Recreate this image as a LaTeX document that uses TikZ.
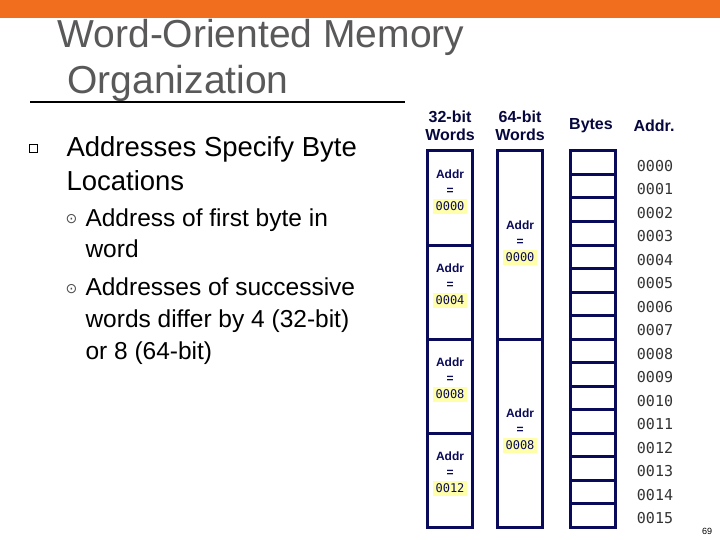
\documentclass[tikz,border=0pt]{standalone}
\usepackage{fontspec}
\setmainfont{Liberation Sans}
\setmonofont{DejaVu Sans Mono}
\newfontfamily\symfont{DejaVu Sans}
\usetikzlibrary{calc}
\definecolor{navy}{RGB}{10,10,90}
\definecolor{hilite}{RGB}{255,255,170}
\definecolor{barorange}{RGB}{240,110,30}
\begin{document}
\begin{tikzpicture}[x=1pt,y=-1pt,
   memcell/.style={draw=navy, line width=3pt, minimum width=45pt, inner sep=0pt},
   addrlbl/.style={align=center, text=navy, font=\bfseries\fontsize{12}{16}\selectfont},
   bytenum/.style={font=\ttfamily\fontsize{15}{15}\selectfont, text=black!80},
   colhead/.style={align=center, text=navy!70!black, font=\bfseries\fontsize{16}{18}\selectfont},
   subline/.style={anchor=base west, font=\fontsize{24.5}{24}\selectfont}]
\useasboundingbox (0,0) rectangle (720,540);
\fill[barorange] (0,0) rectangle (720,18);

% title and bullets
\node[anchor=base west, text=black!65, font=\fontsize{39}{39}\selectfont] (title1) at (54,48) {Word-Oriented Memory};
\node[anchor=base west, text=black!65, font=\fontsize{39}{39}\selectfont] (title2) at (64,94) {Organization};
\draw[line width=1.5pt] (30,102) -- (405,102);
\node[draw, minimum size=8pt, inner sep=0pt] (box) at (33,148) {};
\node[anchor=base west, font=\fontsize{27.5}{28}\selectfont] (main1) at (63,157) {Addresses Specify Byte};
\node[anchor=base west, font=\fontsize{27.5}{28}\selectfont] (main2) at (63,191) {Locations};
\node[anchor=base west, text=black!70, font=\symfont\fontsize{14}{14}\selectfont] (dot1) at (62,224) {⊙};
\node[anchor=base west, text=black!70, font=\symfont\fontsize{14}{14}\selectfont] (dot2) at (62,293) {⊙};
\node[subline] (s1) at (82,226) {Address of first byte in};
\node[subline] (s2) at (82,258) {word};
\node[subline] (s3) at (82,295) {Addresses of successive};
\node[subline] (s4) at (82,327) {words differ by 4 (32-bit)};
\node[subline] (s5) at (82,359) {or 8 (64-bit)};

% column heads
\node[colhead] (h32) at (450,126) {32-bit\\Words};
\node[colhead] (h64) at (520,126) {64-bit\\Words};
\node[colhead] (hb) at (591,126) {Bytes};
\node[colhead] (ha) at (654,126) {Addr.};

% 32-bit words
\foreach \i/\a in {0/0000,1/0004,2/0008,3/0012}{
  \node[memcell, minimum height=94pt] (w\i) at (450,{151+47+94*\i}) {};
  \node[addrlbl] (wl\i) at ($(w\i)+(0,-6)$) {Addr\\=\\\colorbox{hilite}{\mdseries\ttfamily\fontsize{12}{12}\selectfont\a}};
}
% 64-bit words
\foreach \i/\a in {0/0000,1/0008}{
  \node[memcell, minimum height=188pt] (d\i) at (520,{151+94+188*\i}) {};
  \node[addrlbl] (dl\i) at ($(d\i)+(0,-2)$) {Addr\\=\\\colorbox{hilite}{\mdseries\ttfamily\fontsize{12}{12}\selectfont\a}};
}
% bytes
\foreach \i in {0,...,15}{
  \node[memcell, minimum height=23.5pt] (b\i) at (593,{151+11.75+23.5*\i}) {};
  \node[bytenum] (n\i) at (655,{166+23.5*\i}) {\ifnum\i<10 000\i\else 00\i\fi};
}
\node[font=\fontsize{9}{9}\selectfont] (pg) at (707,531) {69};
\end{tikzpicture}
\end{document}
